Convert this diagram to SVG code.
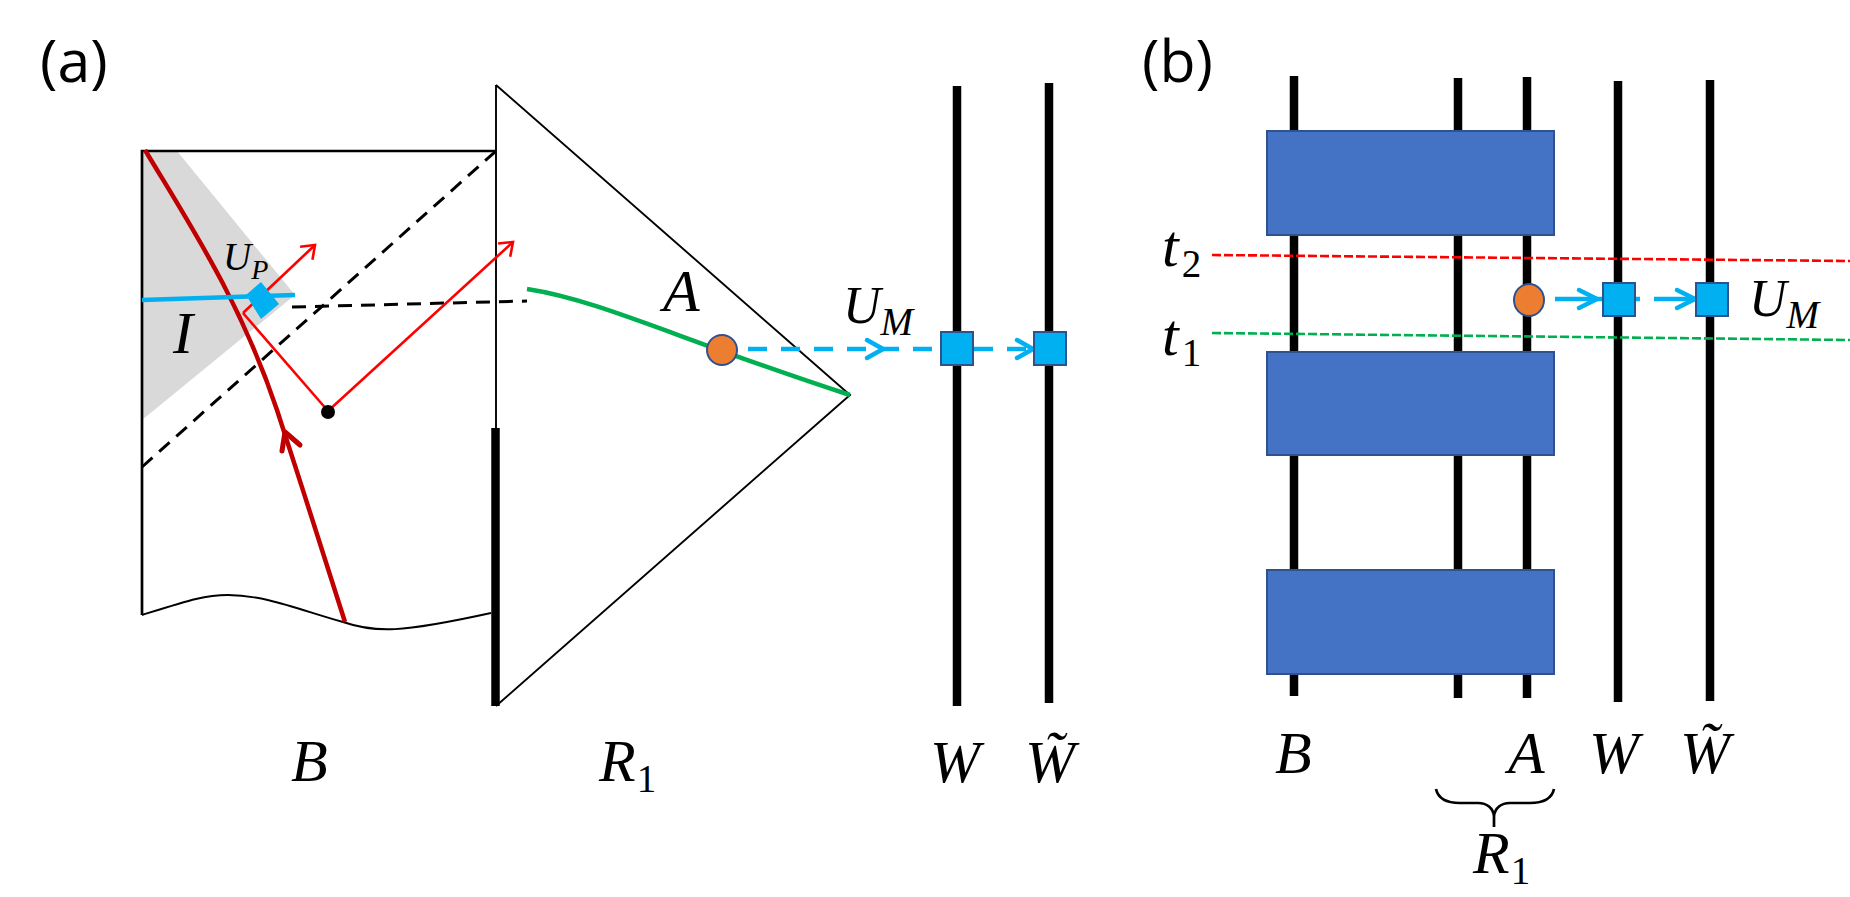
<svg xmlns="http://www.w3.org/2000/svg" width="1850" height="897" viewBox="0 0 1850 897">
<style>
.m{font-family:"Liberation Serif",serif;font-style:italic;font-size:60px;fill:#000}
.n{font-size:52px}
.s{font-size:39px}
.u{font-style:normal}
.p{font-family:"Open Sans",sans-serif;font-size:59px;fill:#000}
.thin{fill:none;stroke:#000;stroke-width:2.7}
.hair{fill:none;stroke:#000;stroke-width:1.9}
.thick{fill:none;stroke:#000;stroke-width:8.5}
.dash{fill:none;stroke:#000;stroke-width:3;stroke-dasharray:14 9}
.red{fill:none;stroke:#f00;stroke-width:2.6}
.blue{fill:none;stroke:#00b0f0;stroke-width:4.5}
.bd{stroke-dasharray:19 14}
.chev{fill:none;stroke:#00b0f0;stroke-width:4.5;stroke-linecap:round;stroke-linejoin:round}
.sq{fill:#00b0f0;stroke:#2f528f;stroke-width:2}
.box{fill:#4472c4;stroke:#2f528f;stroke-width:2}
.or{fill:#ed7d31;stroke:#2f528f;stroke-width:2}
</style>
<defs>
<marker id="ra" markerUnits="userSpaceOnUse" markerWidth="24" markerHeight="24" refX="16" refY="12" orient="auto"><path d="M4,3 L16,12 L4,21" fill="none" stroke="#f00" stroke-width="2.6"/></marker>
</defs>
<g id="spacetime">
<polygon points="142,151 177,151 295,295 142,420" fill="#d9d9d9"/>
<path class="thin" d="M496,151 H142 V615"/>
<path class="hair" d="M142,615 C190,600 205,595 228,595 C265,595 300,610 343,622 C375,633 400,633 491,613"/>
<path class="hair" d="M496,85 V428"/>
<path class="hair" d="M496,85 L850,395 L496,706"/>
<path class="thick" d="M495.500,428 V706"/>
</g>
<g id="wires-a">
<path class="thick" d="M957,86 V706"/>
<path class="thick" d="M1049,83 V703"/>
</g>
<g id="wires-b">
<path class="thick" d="M1294,76 V696"/>
<path class="thick" d="M1458,78 V698"/>
<path class="thick" d="M1527,77 V698"/>
<path class="thick" d="M1618,81 V702"/>
<path class="thick" d="M1710,80 V701"/>
</g>
<g id="connectors">
<path d="M145,150 C190,225 240,300 277,410 C300,480 325,560 345,622" fill="none" stroke="#c00000" stroke-width="4.500"/>
<path d="M282,451 L285,432 L300,445" fill="none" stroke="#c00000" stroke-width="5" stroke-linecap="round" stroke-linejoin="round"/>
<path d="M142,300 L295,295" fill="none" stroke="#00b0f0" stroke-width="4.500"/>
<path class="dash" d="M142,467 L496,151"/>
<path class="dash" d="M292,307 L527,301"/>
<path class="red" marker-end="url(#ra)" d="M243,313 L315,245"/>
<path class="red" d="M243,313 L328,411"/>
<path class="red" marker-end="url(#ra)" d="M328,411 L513,242"/>
<path d="M527,289 C600,300 680,340 850,395" fill="none" stroke="#00b050" stroke-width="4.500"/>
<path class="blue bd" d="M748,349 H940"/>
<path class="chev" d="M867,340 L883,349 L867,358"/>
<path class="blue bd" d="M974,349 H1033"/>
<path class="chev" d="M1017,340 L1033,349 L1017,358"/>
<path d="M1212,255 L1850,261" fill="none" stroke="#f00" stroke-width="2.600" stroke-dasharray="9 3"/>
<path d="M1212,333 L1850,340" fill="none" stroke="#00b050" stroke-width="2.600" stroke-dasharray="9 3"/>
<path class="blue" d="M1555,299 H1603"/>
<path class="chev" d="M1579,290 L1597,299 L1579,308"/>
<path class="blue" d="M1636,299 H1640"/>
<path class="blue" d="M1654,299 H1696"/>
<path class="chev" d="M1677,290 L1695,299 L1677,308"/>
</g>
<g id="event"><circle cx="328" cy="412" r="7" fill="#000"/></g>
<g id="up"><polygon points="261,282 279,304 261,319 246,295" fill="#00b0f0"/></g>
<g id="a-site"><circle class="or" cx="722" cy="350" r="15"/></g>
<g id="um-w"><rect class="sq" x="941" y="332" width="32" height="33"/></g>
<g id="um-wt"><rect class="sq" x="1034" y="332" width="32" height="33"/></g>
<g id="block-1"><rect class="box" x="1267" y="131" width="287" height="104"/></g>
<g id="block-2"><rect class="box" x="1267" y="352" width="287" height="103"/></g>
<g id="block-3"><rect class="box" x="1267" y="570" width="287" height="104"/></g>
<g id="a-site-b"><ellipse class="or" cx="1529" cy="300" rx="15" ry="16"/></g>
<g id="um-w-b"><rect class="sq" x="1603" y="283" width="32" height="33"/></g>
<g id="um-wt-b"><rect class="sq" x="1696" y="283" width="32" height="33"/></g>
<g id="brace"><path class="thin" d="M1436,789 C1438,798 1446,803 1460,803 H1478 C1487,803 1493,808 1494,816 V827 M1494,816 C1495,808 1501,803 1510,803 H1530 C1544,803 1552,798 1554,789"/></g>
<g id="labels">
<text class="p" x="40" y="82">(a)</text>
<text class="p" x="1142" y="82">(b)</text>
<text class="m" x="173" y="353">I</text>
<text class="m" x="223" y="270" style="font-size:39px">U<tspan style="font-size:28px" dy="9">P</tspan></text>
<text class="m" x="663" y="311">A</text>
<text class="m n" x="843" y="323">U<tspan class="s" dy="12">M</tspan></text>
<text class="m" x="291" y="781">B</text>
<text class="m" x="599" y="781">R<tspan class="s u" dx="1" dy="11">1</tspan></text>
<text class="m" x="930" y="782">W</text>
<text class="m" x="1025" y="782">W̃</text>
<text class="m" x="1275" y="773">B</text>
<text class="m" x="1508" y="773">A</text>
<text class="m" x="1589" y="773">W</text>
<text class="m" x="1680" y="773">W̃</text>
<text class="m" x="1162" y="266">t<tspan class="s u" dx="3" dy="11">2</tspan></text>
<text class="m" x="1162" y="355">t<tspan class="s u" dx="3" dy="11">1</tspan></text>
<text class="m n" x="1749" y="316">U<tspan class="s" dy="12">M</tspan></text>
<text class="m" x="1473" y="873">R<tspan class="s u" dx="1" dy="11">1</tspan></text>
</g>
</svg>
